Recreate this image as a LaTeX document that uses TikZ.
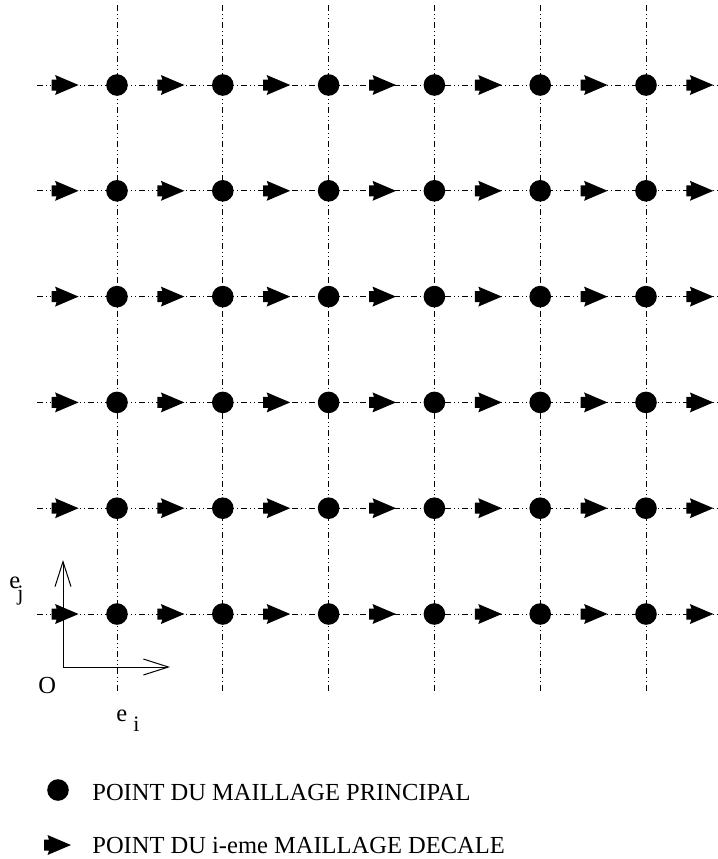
\documentclass[tikz,border=0pt]{standalone}
\usepackage{fontspec}
\setmainfont{Liberation Serif}
\usetikzlibrary{arrows.meta,positioning}

\begin{document}
\begin{tikzpicture}[
    x=0.5pt, y=-0.5pt,
    font=\fontsize{12.25}{14}\selectfont,
    gridline/.style={draw=black, line width=0.4pt,
                     dash pattern=on 3pt off 1.5pt on 0.5pt off 1.5pt on 0.5pt off 1.5pt},
    mainpt/.style={circle, fill=black, inner sep=0pt, minimum size=10.8pt},
    axis/.style={draw=black, line width=0.5pt,
                 {Straight Barb[length=12.5pt,width=8pt]}-{Straight Barb[length=12.5pt,width=8pt]}},
    lab/.style={inner sep=0pt, anchor=base west},
    sub/.style={lab, font=\fontsize{11}{13}\selectfont},
    stagpt/.pic={
      \fill (-13.5,-5.5) -- (-8.5,-5.5) -- (-10,-10) -- (13.5,0)
            -- (-10,10) -- (-8.5,5.5) -- (-13.5,5.5) -- cycle;
    },
  ]
    \useasboundingbox (0,0) rectangle (718,859);
    % --- dash-dot lines ---------------------------------------------------
    \foreach \i in {0,...,5} {
      \draw[gridline] (117+105.8*\i,5) -- (117+105.8*\i,693);
      \draw[gridline] (37,614-105.8*\i) -- (718,614-105.8*\i);
    }
    % --- staggered points (i-th shifted mesh) -----------------------------
    \foreach \j in {0,...,5}
      \foreach \i in {0,...,6}
        \pic at (65.1+105.8*\i,614-105.8*\j) {stagpt};
    % --- main mesh points --------------------------------------------------
    \foreach \j in {0,...,5}
      \foreach \i in {0,...,5}
        \node[mainpt] (c-\i-\j) at (117+105.8*\i,614-105.8*\j) {};
    % --- frame ------------------------------------------------------------
    \coordinate (o)  at (63,667);
    \coordinate (ej) at (63,560);
    \coordinate (ei) at (170,667);
    \draw[axis] (ej) -- (o) -- (ei);
    \node[lab] (lo)   at (38,693)  {O};
    \node[lab] (lej)  at (9,588)   {e};
    \node[sub] (lejs) at (17,600)  {j};
    \node[lab] (lei)  at (116,721) {e};
    \node[sub] (leis) at (133,731) {i};
    % --- legend -----------------------------------------------------------
    \node[mainpt] (key1) at (58,790) {};
    \pic at (57.5,845) {stagpt};
    \node[lab] (txt1) at (92,800) {POINT DU MAILLAGE PRINCIPAL};
    \node[lab] (txt2) at (92,853) {POINT DU i-eme MAILLAGE DECALE};
  \end{tikzpicture}
\end{document}
